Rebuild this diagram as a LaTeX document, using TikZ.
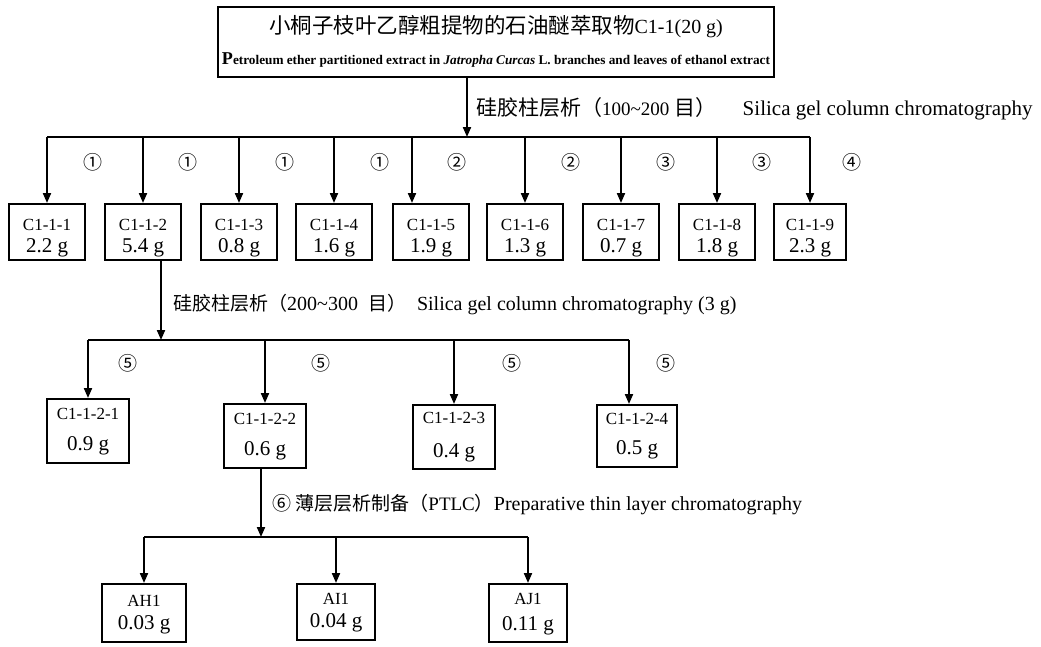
\documentclass[tikz,border=0pt]{standalone}
\usepackage{fontspec}
\setmainfont{Liberation Serif}
\newfontfamily\cjk{Noto Sans CJK SC}
\usetikzlibrary{arrows.meta}
\newcommand{\bt}[3]{\rule{0pt}{#3}#1\\{\fontsize{21}{21}\selectfont #2}}
\begin{document}
\begin{tikzpicture}[x=1pt,y=-1pt,
  ln/.style={line width=2pt},
  arr/.style={line width=2pt,-{Triangle[length=10pt,width=8pt]}},
  bx/.style={draw,line width=2pt,inner sep=0pt,align=center},
  rowa/.style={bx,minimum width=76pt,minimum height=56pt,font=\fontsize{17}{22}\selectfont},
  rowb/.style={bx,minimum width=82pt,minimum height=64pt,font=\fontsize{17}{31}\selectfont},
  rowc/.style={bx,minimum width=78pt,minimum height=58pt,font=\fontsize{17}{23}\selectfont},
  lab/.style={anchor=west,inner sep=0pt,font=\fontsize{20}{20}\selectfont},
  circ/.style={inner sep=0pt,font=\cjk\fontsize{19}{19}\selectfont}]
\fill[white] (0,0) rectangle (1041,646);
\useasboundingbox (0,0) rectangle (1041,646);

% top box
\node[bx,minimum width=556pt,minimum height=70pt,font=\fontsize{21}{31}\selectfont] (top) at (496,42)
 {\rule{0pt}{20pt}{\cjk\fontsize{21.5}{31}\selectfont 小桐子枝叶乙醇粗提物的石油醚萃取物}{\fontsize{20}{31}\selectfont C1-1(20 g)}\\
  \resizebox{548pt}{!}{\fontsize{11}{11}\selectfont\bfseries{\fontsize{15}{15}\selectfont P}etroleum ether partitioned extract in \textit{Jatropha Curcas} L. branches and leaves of ethanol extract}\rule[-6pt]{0pt}{0pt}};

% first level
\coordinate (j1) at (467,137);
\node[rowa] (b1) at (47,232) {\bt{C1-1-1}{2.2 g}{24pt}};
\node[rowa] (b2) at (143,232) {\bt{C1-1-2}{5.4 g}{24pt}};
\node[rowa] (b3) at (239,232) {\bt{C1-1-3}{0.8 g}{24pt}};
\node[rowa] (b4) at (334,232) {\bt{C1-1-4}{1.6 g}{24pt}};
\node[rowa] (b5) at (431,232) {\bt{C1-1-5}{1.9 g}{24pt}};
\node[rowa] (b6) at (525,232) {\bt{C1-1-6}{1.3 g}{24pt}};
\node[rowa] (b7) at (621,232) {\bt{C1-1-7}{0.7 g}{24pt}};
\node[rowa] (b8) at (717,232) {\bt{C1-1-8}{1.8 g}{24pt}};
\node[rowa,minimum width=72pt] (b9) at (810,232) {\bt{C1-1-9}{2.3 g}{24pt}};
\coordinate (d5) at (412,137);

\draw[arr] (top.south -| j1) -- (j1);
\draw[ln] (b1.north |- j1) -- (b9.north |- j1);
\foreach \b in {b1,b2,b3,b4,b6,b7,b8,b9} \draw[arr] (\b.north |- j1) -- (\b.north);
\draw[arr] (d5) -- (d5 |- b5.north);

\node[lab,font=\fontsize{21}{21}\selectfont] (l1) at (476,109)
 {{\cjk 硅胶柱层析（}{\fontsize{19}{19}\selectfont 100\textasciitilde 200} {\cjk 目）}\hspace{26pt}Silica gel column chromatography};

\foreach \x/\t [count=\i] in {93/①,188/①,285/①,380/①,457/②,571/②,666/③,762/③,852/④}
  \node[circ] (n\i) at (\x,162) {\t};

% second level
\coordinate (j2) at (161,340);
\node[rowb] (c1) at (88,431) {\bt{C1-1-2-1}{0.9 g}{12pt}};
\node[rowb] (c2) at (265,436) {\bt{C1-1-2-2}{0.6 g}{12pt}};
\node[rowb,font=\fontsize{17}{34}\selectfont] (c3) at (454,437) {\bt{C1-1-2-3}{0.4 g}{12pt}};
\node[rowb,minimum width=80pt,minimum height=62pt,font=\fontsize{17}{30}\selectfont] (c4) at (637,436) {\bt{C1-1-2-4}{0.5 g}{12pt}};
\coordinate (d4) at (629,340);

\draw[arr] (j2 |- b2.south) -- (j2);
\draw[ln] (c1.north |- j2) -- (d4);
\foreach \c in {c1,c2,c3} \draw[arr] (\c.north |- j2) -- (\c.north);
\draw[arr] (d4) -- (d4 |- c4.north);

\node[lab] (l2) at (173,305)
 {{\cjk\fontsize{19}{19}\selectfont 硅胶柱层析（}200\textasciitilde 300\hspace{10pt}{\cjk\fontsize{19}{19}\selectfont 目）}\hspace{11pt}Silica gel column chromatography (3 g)};

\foreach \x [count=\i] in {128,321,512,666}
  \node[circ] (m\i) at (\x,363) {⑤};

% third level
\coordinate (j3) at (261,537);
\node[rowc,minimum width=84pt] (e1) at (144,613) {\bt{AH1}{0.03 g}{15pt}};
\node[rowc,minimum height=56pt] (e2) at (336,612) {\bt{AI1}{0.04 g}{13pt}};
\node[rowc,font=\fontsize{17}{26}\selectfont] (e3) at (528,613) {\bt{AJ1}{0.11 g}{13pt}};

\draw[arr] (j3 |- c2.south) -- (j3);
\draw[ln] (e1.north |- j3) -- (e3.north |- j3);
\foreach \e in {e1,e2,e3} \draw[arr] (\e.north |- j3) -- (\e.north);

\node[lab] (l3) at (272,505)
 {{\cjk\fontsize{19}{19}\selectfont ⑥ 薄层层析制备（}{\fontsize{19}{19}\selectfont PTLC}{\cjk\fontsize{19}{19}\selectfont ）}Preparative thin layer chromatography};
\end{tikzpicture}
\end{document}
